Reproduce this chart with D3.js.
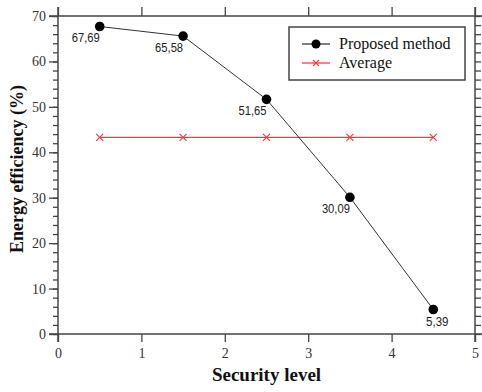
<!DOCTYPE html>
<html><head><meta charset="utf-8">
<script src="https://cdn.jsdelivr.net/npm/d3@7"></script>
<style>body{margin:0;background:#fff}svg{display:block}</style>
</head><body>
<svg id="c" width="482" height="392"></svg>
<script>
const levels = [0.5, 1.5, 2.5, 3.5, 4.5];
const proposed = [67.69, 65.58, 51.65, 30.09, 5.39];
const pointLabels = ["67,69", "65,58", "51,65", "30,09", "5,39"];
const average = [43.3, 43.3, 43.3, 43.3, 43.3];
const xTicks = [0, 1, 2, 3, 4, 5];
const yTicks = [0, 10, 20, 30, 40, 50, 60, 70];
const seriesNames = ["Proposed method", "Average"];

const svg = d3.select("#c");
const L = 58, R = 475, T = 16, B = 334;
const x = d3.scaleLinear().domain([0, 5]).range([L, R]);
const y = d3.scaleLinear().domain([0, 70]).range([B, T]);
const axisCol = "#444";
const serif = "'Liberation Serif','Times New Roman',serif";

const minor = d3.range(0, 71, 2);
const gl = svg.append("g").attr("transform", `translate(${L},0)`)
  .call(d3.axisLeft(y).tickValues(minor).tickSize(5).tickFormat(""));
gl.append("g").call(d3.axisLeft(y).tickValues(yTicks).tickSize(9).tickFormat(d3.format("d")));
svg.append("g").attr("transform", `translate(${R},0)`)
  .call(d3.axisRight(y).tickValues(minor).tickSize(6).tickFormat(""));
svg.append("g").attr("transform", `translate(0,${B})`)
  .call(d3.axisBottom(x).tickValues(xTicks).tickSize(8).tickPadding(6).tickFormat(d3.format("d")));
svg.append("g").attr("transform", `translate(0,${T})`)
  .call(d3.axisTop(x).tickValues(xTicks).tickSize(9).tickFormat(""));

svg.selectAll(".domain").remove();
svg.selectAll(".tick line").attr("stroke", axisCol).attr("stroke-width", 1.3);
svg.selectAll(".tick text").attr("font-family", serif).attr("font-size", 14).attr("fill", "#333");

const fr = svg.append("g").attr("stroke", axisCol).attr("stroke-width", 1.5);
fr.append("line").attr("x1", L - 9).attr("x2", R + 7).attr("y1", T).attr("y2", T);
fr.append("line").attr("x1", L - 9).attr("x2", R + 7).attr("y1", B).attr("y2", B);
fr.append("line").attr("x1", L).attr("x2", L).attr("y1", T - 9).attr("y2", B + 8);
fr.append("line").attr("x1", R).attr("x2", R).attr("y1", T - 9).attr("y2", B + 8);

const red = "#f03c3c";
const avgData = levels.map((l, i) => [l, average[i]]);
svg.append("path").datum(avgData)
  .attr("d", d3.line().x(d => x(d[0])).y(d => y(d[1])))
  .attr("fill", "none").attr("stroke", red).attr("stroke-width", 1.3);
const xMark = (g, cx, cy, s) => {
  g.append("path").attr("d", `M${cx - s},${cy - s}L${cx + s},${cy + s}M${cx - s},${cy + s}L${cx + s},${cy - s}`)
    .attr("stroke", red).attr("stroke-width", 1.1).attr("fill", "none");
};
const mg = svg.append("g");
avgData.forEach(d => xMark(mg, x(d[0]), y(d[1]), 3.5));

const propData = levels.map((l, i) => [l, proposed[i]]);
svg.append("path").datum(propData)
  .attr("d", d3.line().x(d => x(d[0])).y(d => y(d[1])))
  .attr("fill", "none").attr("stroke", "#333").attr("stroke-width", 1);
svg.append("g").selectAll("circle").data(propData).join("circle")
  .attr("cx", d => x(d[0])).attr("cy", d => y(d[1])).attr("r", 4.8).attr("fill", "#000");

const last = propData.length - 1;
svg.append("g").selectAll("text").data(propData).join("text")
  .attr("x", (d, i) => i === last ? x(d[0]) + 4 : x(d[0]))
  .attr("y", d => y(d[1]) + 16)
  .attr("text-anchor", (d, i) => i === last ? "middle" : "end")
  .attr("font-family", "'Liberation Sans',Arial,sans-serif").attr("font-size", 12)
  .attr("fill", "#222")
  .attr("textLength", (d, i) => pointLabels[i].length * 5.6)
  .attr("lengthAdjust", "spacingAndGlyphs")
  .text((d, i) => pointLabels[i]);

const lg = svg.append("g");
lg.append("rect").attr("x", 289).attr("y", 27).attr("width", 176).attr("height", 53)
  .attr("fill", "#fff").attr("stroke", axisCol).attr("stroke-width", 1.5);
lg.append("line").attr("x1", 302).attr("x2", 330).attr("y1", 44).attr("y2", 44).attr("stroke", "#000").attr("stroke-width", 1);
lg.append("circle").attr("cx", 316).attr("cy", 44).attr("r", 4.5).attr("fill", "#000");
lg.append("line").attr("x1", 302).attr("x2", 330).attr("y1", 63).attr("y2", 63).attr("stroke", "#f00").attr("stroke-width", 1);
xMark(lg, 316, 63, 3);
lg.selectAll("text.leg").data(seriesNames).join("text").attr("class", "leg")
  .attr("x", 339).attr("y", (d, i) => 49 + i * 19)
  .attr("font-family", serif).attr("font-size", 16).attr("fill", "#111").text(d => d);

svg.append("text").attr("x", (L + R) / 2).attr("y", 381).attr("text-anchor", "middle")
  .attr("font-family", serif).attr("font-weight", "bold").attr("font-size", 19).attr("fill", "#111")
  .text("Security level");
svg.append("text").attr("transform", `translate(23,169) rotate(-90)`).attr("text-anchor", "middle")
  .attr("font-family", serif).attr("font-weight", "bold").attr("font-size", 18).attr("fill", "#111")
  .text("Energy efficiency (%)");
</script>
</body></html>
